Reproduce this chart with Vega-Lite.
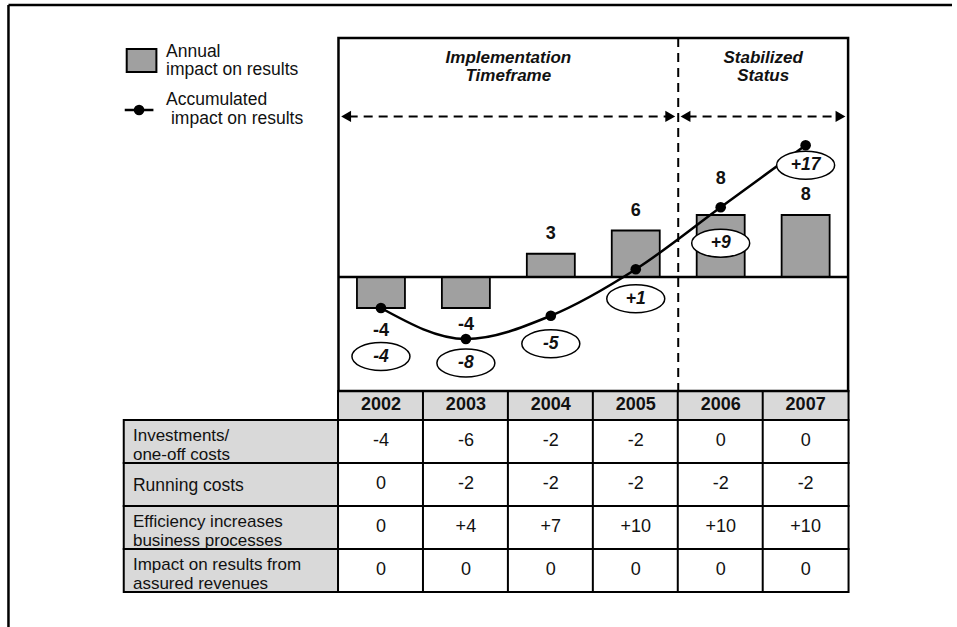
{
  "$schema": "https://vega.github.io/schema/vega-lite/v6.json",
  "width": 957,
  "height": 627,
  "padding": 0,
  "autosize": {"type": "none"},
  "background": "white",
  "config": {
    "view": {"stroke": null},
    "font": "Liberation Sans",
    "locale": {"number": {"decimal": ".", "thousands": ",", "grouping": [3], "currency": ["$", ""], "minus": "-"}}
  },
  "data": {"values": [{}]},
  "datasets": {
    "years": [
      {"year": 2002, "annual": -4, "cumulative": -4},
      {"year": 2003, "annual": -4, "cumulative": -8},
      {"year": 2004, "annual": 3, "cumulative": -5},
      {"year": 2005, "annual": 6, "cumulative": 1},
      {"year": 2006, "annual": 8, "cumulative": 9},
      {"year": 2007, "annual": 8, "cumulative": 17}
    ],
    "rows": [
      {"row": 1, "label": "Investments/\none-off costs"},
      {"row": 2, "label": "Running costs"},
      {"row": 3, "label": "Efficiency increases\nbusiness processes"},
      {"row": 4, "label": "Impact on results from\nassured revenues"}
    ],
    "cells": [
      {"row": 1, "year": 2002, "value": -4}, {"row": 1, "year": 2003, "value": -6}, {"row": 1, "year": 2004, "value": -2},
      {"row": 1, "year": 2005, "value": -2}, {"row": 1, "year": 2006, "value": 0}, {"row": 1, "year": 2007, "value": 0},
      {"row": 2, "year": 2002, "value": 0}, {"row": 2, "year": 2003, "value": -2}, {"row": 2, "year": 2004, "value": -2},
      {"row": 2, "year": 2005, "value": -2}, {"row": 2, "year": 2006, "value": -2}, {"row": 2, "year": 2007, "value": -2},
      {"row": 3, "year": 2002, "value": 0}, {"row": 3, "year": 2003, "value": 4}, {"row": 3, "year": 2004, "value": 7},
      {"row": 3, "year": 2005, "value": 10}, {"row": 3, "year": 2006, "value": 10}, {"row": 3, "year": 2007, "value": 10},
      {"row": 4, "year": 2002, "value": 0}, {"row": 4, "year": 2003, "value": 0}, {"row": 4, "year": 2004, "value": 0},
      {"row": 4, "year": 2005, "value": 0}, {"row": 4, "year": 2006, "value": 0}, {"row": 4, "year": 2007, "value": 0}
    ]
  },
  "resolve": {"scale": {"x": "shared", "y": "independent"}},
  "layer": [
    {"mark": {"type": "rule", "stroke": "black", "strokeWidth": 2.5},
     "encoding": {"x": {"datum": 1997.6146, "scale": {"domain": [1997.5738, 2008.7233], "nice": false, "zero": false}, "axis": null}, "x2": {"datum": 2008.7233},
                  "y": {"datum": -9.1512, "scale": {"domain": [-9.2674, 5.314], "nice": false, "zero": false, "reverse": true}, "axis": null}}},
    {"mark": {"type": "rule", "stroke": "black", "strokeWidth": 2.5},
     "encoding": {"x": {"datum": 1997.6146, "scale": {"domain": [1997.5738, 2008.7233], "nice": false, "zero": false}, "axis": null},
                  "y": {"datum": -9.1512, "scale": {"domain": [-9.2674, 5.314], "nice": false, "zero": false, "reverse": true}, "axis": null}, "y2": {"datum": 5.314}}},

    {"data": {"name": "rows"},
     "mark": {"type": "rect", "fill": "#d9d9d9", "stroke": "black", "strokeWidth": 2, "height": 43},
     "encoding": {"x": {"datum": 1998.9719, "scale": {"domain": [1997.5738, 2008.7233], "nice": false, "zero": false}, "axis": null}, "x2": {"datum": 2001.5},
                  "y": {"field": "row", "type": "quantitative", "scale": {"domain": [-9.2674, 5.314], "nice": false, "zero": false, "reverse": true}, "axis": null}}},
    {"data": {"name": "years"},
     "mark": {"type": "rect", "fill": "#d9d9d9", "stroke": "black", "strokeWidth": 2, "width": 85.83, "height": 29},
     "encoding": {"x": {"field": "year", "type": "quantitative", "scale": {"domain": [1997.5738, 2008.7233], "nice": false, "zero": false}, "axis": null},
                  "y": {"datum": 0.1628, "scale": {"domain": [-9.2674, 5.314], "nice": false, "zero": false, "reverse": true}, "axis": null}}},
    {"data": {"name": "cells"},
     "mark": {"type": "rect", "fill": "white", "stroke": "black", "strokeWidth": 2, "width": 85.83, "height": 43},
     "encoding": {"x": {"field": "year", "type": "quantitative", "scale": {"domain": [1997.5738, 2008.7233], "nice": false, "zero": false}, "axis": null},
                  "y": {"field": "row", "type": "quantitative", "scale": {"domain": [-9.2674, 5.314], "nice": false, "zero": false, "reverse": true}, "axis": null}}},
    {"data": {"name": "rows"}, "transform": [{"filter": "indexof(datum.label, '\\n') >= 0"}],
     "mark": {"type": "text", "align": "left", "baseline": "middle", "lineBreak": "\n", "fontSize": 17, "lineHeight": 19, "dy": -5, "color": "#111"},
     "encoding": {"x": {"datum": 1999.0802, "scale": {"domain": [1997.5738, 2008.7233], "nice": false, "zero": false}, "axis": null},
                  "y": {"field": "row", "type": "quantitative", "scale": {"domain": [-9.2674, 5.314], "nice": false, "zero": false, "reverse": true}, "axis": null},
                  "text": {"field": "label", "type": "nominal"}}},
    {"data": {"name": "rows"}, "transform": [{"filter": "indexof(datum.label, '\\n') < 0"}],
     "mark": {"type": "text", "align": "left", "baseline": "middle", "fontSize": 17.5, "dy": 1.5, "color": "#111"},
     "encoding": {"x": {"datum": 1999.0802, "scale": {"domain": [1997.5738, 2008.7233], "nice": false, "zero": false}, "axis": null},
                  "y": {"field": "row", "type": "quantitative", "scale": {"domain": [-9.2674, 5.314], "nice": false, "zero": false, "reverse": true}, "axis": null},
                  "text": {"field": "label", "type": "nominal"}}},
    {"data": {"name": "years"},
     "mark": {"type": "text", "align": "center", "baseline": "middle", "fontSize": 18, "fontWeight": "bold", "color": "#111"},
     "encoding": {"x": {"field": "year", "type": "quantitative", "scale": {"domain": [1997.5738, 2008.7233], "nice": false, "zero": false}, "axis": null},
                  "y": {"datum": 0.1628, "scale": {"domain": [-9.2674, 5.314], "nice": false, "zero": false, "reverse": true}, "axis": null},
                  "text": {"field": "year", "type": "nominal"}}},
    {"data": {"name": "cells"},
     "mark": {"type": "text", "align": "center", "baseline": "middle", "fontSize": 18, "color": "#111"},
     "encoding": {"x": {"field": "year", "type": "quantitative", "scale": {"domain": [1997.5738, 2008.7233], "nice": false, "zero": false}, "axis": null},
                  "y": {"field": "row", "type": "quantitative", "scale": {"domain": [-9.2674, 5.314], "nice": false, "zero": false, "reverse": true}, "axis": null},
                  "text": {"condition": {"test": "datum.value === 0", "value": "0"}, "field": "value", "type": "quantitative", "format": "+d"}}},

    {"mark": {"type": "rect", "fill": "transparent", "stroke": "black", "strokeWidth": 2.5},
     "encoding": {"x": {"datum": 2001.5, "scale": {"domain": [1997.5738, 2008.7233], "nice": false, "zero": false}, "axis": null}, "x2": {"datum": 2007.5},
                  "y": {"datum": -8.3837, "scale": {"domain": [-9.2674, 5.314], "nice": false, "zero": false, "reverse": true}, "axis": null}, "y2": {"datum": -0.1744}}},
    {"mark": {"type": "rule", "stroke": "black", "strokeWidth": 2, "strokeDash": [9, 6]},
     "encoding": {"x": {"datum": 2005.5, "scale": {"domain": [1997.5738, 2008.7233], "nice": false, "zero": false}, "axis": null},
                  "y": {"datum": -8.3837, "scale": {"domain": [-9.2674, 5.314], "nice": false, "zero": false, "reverse": true}, "axis": null}, "y2": {"datum": -0.1744}}},
    {"mark": {"type": "rule", "stroke": "black", "strokeWidth": 2, "strokeDash": [9, 6]},
     "encoding": {"x": {"datum": 2001.62, "scale": {"domain": [1997.5738, 2008.7233], "nice": false, "zero": false}, "axis": null}, "x2": {"datum": 2005.38},
                  "y": {"datum": -6.5605, "scale": {"domain": [-9.2674, 5.314], "nice": false, "zero": false, "reverse": true}, "axis": null}}},
    {"mark": {"type": "rule", "stroke": "black", "strokeWidth": 2, "strokeDash": [9, 6]},
     "encoding": {"x": {"datum": 2005.61, "scale": {"domain": [1997.5738, 2008.7233], "nice": false, "zero": false}, "axis": null}, "x2": {"datum": 2007.38},
                  "y": {"datum": -6.5605, "scale": {"domain": [-9.2674, 5.314], "nice": false, "zero": false, "reverse": true}, "axis": null}}},
    {"mark": {"type": "point", "shape": "triangle-left", "size": 130, "filled": true, "color": "black", "opacity": 1},
     "encoding": {"x": {"datum": 2001.5898, "scale": {"domain": [1997.5738, 2008.7233], "nice": false, "zero": false}, "axis": null},
                  "y": {"datum": -6.5605, "scale": {"domain": [-9.2674, 5.314], "nice": false, "zero": false, "reverse": true}, "axis": null}}},
    {"mark": {"type": "point", "shape": "triangle-right", "size": 130, "filled": true, "color": "black", "opacity": 1},
     "encoding": {"x": {"datum": 2005.4064, "scale": {"domain": [1997.5738, 2008.7233], "nice": false, "zero": false}, "axis": null},
                  "y": {"datum": -6.5605, "scale": {"domain": [-9.2674, 5.314], "nice": false, "zero": false, "reverse": true}, "axis": null}}},
    {"mark": {"type": "point", "shape": "triangle-left", "size": 130, "filled": true, "color": "black", "opacity": 1},
     "encoding": {"x": {"datum": 2005.5858, "scale": {"domain": [1997.5738, 2008.7233], "nice": false, "zero": false}, "axis": null},
                  "y": {"datum": -6.5605, "scale": {"domain": [-9.2674, 5.314], "nice": false, "zero": false, "reverse": true}, "axis": null}}},
    {"mark": {"type": "point", "shape": "triangle-right", "size": 130, "filled": true, "color": "black", "opacity": 1},
     "encoding": {"x": {"datum": 2007.4103, "scale": {"domain": [1997.5738, 2008.7233], "nice": false, "zero": false}, "axis": null},
                  "y": {"datum": -6.5605, "scale": {"domain": [-9.2674, 5.314], "nice": false, "zero": false, "reverse": true}, "axis": null}}},
    {"mark": {"type": "text", "text": ["Implementation", "Timeframe"], "fontSize": 17, "fontWeight": "bold", "fontStyle": "italic", "lineHeight": 18.6, "align": "center", "baseline": "alphabetic", "color": "#111"},
     "encoding": {"x": {"datum": 2003.5, "scale": {"domain": [1997.5738, 2008.7233], "nice": false, "zero": false}, "axis": null},
                  "y": {"datum": -7.8047, "scale": {"domain": [-9.2674, 5.314], "nice": false, "zero": false, "reverse": true}, "axis": null}}},
    {"mark": {"type": "text", "text": ["Stabilized", "Status"], "fontSize": 17, "fontWeight": "bold", "fontStyle": "italic", "lineHeight": 18.6, "align": "center", "baseline": "alphabetic", "color": "#111"},
     "encoding": {"x": {"datum": 2006.5, "scale": {"domain": [1997.5738, 2008.7233], "nice": false, "zero": false}, "axis": null},
                  "y": {"datum": -7.8047, "scale": {"domain": [-9.2674, 5.314], "nice": false, "zero": false, "reverse": true}, "axis": null}}},

    {"mark": {"type": "rect", "fill": "#a0a0a0", "stroke": "black", "strokeWidth": 2},
     "encoding": {"x": {"datum": 1999.0068, "scale": {"domain": [1997.5738, 2008.7233], "nice": false, "zero": false}, "axis": null}, "x2": {"datum": 1999.3563},
                  "y": {"datum": -8.1279, "scale": {"domain": [-9.2674, 5.314], "nice": false, "zero": false, "reverse": true}, "axis": null}, "y2": {"datum": -7.593}}},
    {"mark": {"type": "text", "text": ["Annual", "impact on results"], "fontSize": 17.5, "lineHeight": 18.5, "align": "left", "baseline": "alphabetic", "color": "#111"},
     "encoding": {"x": {"datum": 1999.4694, "scale": {"domain": [1997.5738, 2008.7233], "nice": false, "zero": false}, "axis": null},
                  "y": {"datum": -7.9419, "scale": {"domain": [-9.2674, 5.314], "nice": false, "zero": false, "reverse": true}, "axis": null}}},
    {"mark": {"type": "rule", "stroke": "black", "strokeWidth": 2.5},
     "encoding": {"x": {"datum": 1998.9835, "scale": {"domain": [1997.5738, 2008.7233], "nice": false, "zero": false}, "axis": null}, "x2": {"datum": 1999.3213},
                  "y": {"datum": -6.7093, "scale": {"domain": [-9.2674, 5.314], "nice": false, "zero": false, "reverse": true}, "axis": null}}},
    {"mark": {"type": "point", "shape": "circle", "size": 113, "filled": true, "color": "black", "opacity": 1},
     "encoding": {"x": {"datum": 1999.1524, "scale": {"domain": [1997.5738, 2008.7233], "nice": false, "zero": false}, "axis": null},
                  "y": {"datum": -6.7093, "scale": {"domain": [-9.2674, 5.314], "nice": false, "zero": false, "reverse": true}, "axis": null}}},
    {"mark": {"type": "text", "text": "Accumulated", "fontSize": 17.5, "align": "left", "baseline": "alphabetic", "color": "#111"},
     "encoding": {"x": {"datum": 1999.4694, "scale": {"domain": [1997.5738, 2008.7233], "nice": false, "zero": false}, "axis": null},
                  "y": {"datum": -6.8256, "scale": {"domain": [-9.2674, 5.314], "nice": false, "zero": false, "reverse": true}, "axis": null}}},
    {"mark": {"type": "text", "text": "impact on results", "fontSize": 17.5, "align": "left", "baseline": "alphabetic", "color": "#111"},
     "encoding": {"x": {"datum": 1999.5277, "scale": {"domain": [1997.5738, 2008.7233], "nice": false, "zero": false}, "axis": null},
                  "y": {"datum": -6.3953, "scale": {"domain": [-9.2674, 5.314], "nice": false, "zero": false, "reverse": true}, "axis": null}}},

    {"data": {"name": "years"},
     "mark": {"type": "bar", "width": 48, "fill": "#a0a0a0", "stroke": "black", "strokeWidth": 1.8},
     "encoding": {"x": {"field": "year", "type": "quantitative", "scale": {"domain": [1997.5738, 2008.7233], "nice": false, "zero": false}, "axis": null},
                  "y": {"field": "annual", "type": "quantitative", "scale": {"domain": [-45.161, 35.742], "nice": false, "zero": false}, "axis": null}, "y2": {"datum": 0}}},
    {"mark": {"type": "rule", "stroke": "black", "strokeWidth": 2.5},
     "encoding": {"x": {"datum": 2001.5, "scale": {"domain": [1997.5738, 2008.7233], "nice": false, "zero": false}, "axis": null}, "x2": {"datum": 2007.5},
                  "y": {"datum": 0, "scale": {"domain": [-45.161, 35.742], "nice": false, "zero": false}, "axis": null}}},
    {"data": {"name": "years"},
     "mark": {"type": "line", "interpolate": "monotone", "stroke": "black", "strokeWidth": 2.5},
     "encoding": {"x": {"field": "year", "type": "quantitative", "scale": {"domain": [1997.5738, 2008.7233], "nice": false, "zero": false}, "axis": null},
                  "y": {"field": "cumulative", "type": "quantitative", "scale": {"domain": [-45.161, 35.742], "nice": false, "zero": false}, "axis": null}}},

    {"data": {"name": "years"}, "transform": [{"filter": "datum.year == 2002"}],
     "mark": {"type": "point", "shape": "M-1,0A1,0.48 0 1,1 1,0A1,0.48 0 1,1 -1,0Z", "size": 3364, "filled": true, "fill": "white", "stroke": "black", "strokeWidth": 1.5, "opacity": 1, "yOffset": 48.5},
     "encoding": {"x": {"field": "year", "type": "quantitative", "scale": {"domain": [1997.5738, 2008.7233], "nice": false, "zero": false}, "axis": null},
                  "y": {"field": "cumulative", "type": "quantitative", "scale": {"domain": [-45.161, 35.742], "nice": false, "zero": false}, "axis": null}}},
    {"data": {"name": "years"}, "transform": [{"filter": "datum.year == 2003"}],
     "mark": {"type": "point", "shape": "M-1,0A1,0.48 0 1,1 1,0A1,0.48 0 1,1 -1,0Z", "size": 3364, "filled": true, "fill": "white", "stroke": "black", "strokeWidth": 1.5, "opacity": 1, "yOffset": 24},
     "encoding": {"x": {"field": "year", "type": "quantitative", "scale": {"domain": [1997.5738, 2008.7233], "nice": false, "zero": false}, "axis": null},
                  "y": {"field": "cumulative", "type": "quantitative", "scale": {"domain": [-45.161, 35.742], "nice": false, "zero": false}, "axis": null}}},
    {"data": {"name": "years"}, "transform": [{"filter": "datum.year == 2004"}],
     "mark": {"type": "point", "shape": "M-1,0A1,0.48 0 1,1 1,0A1,0.48 0 1,1 -1,0Z", "size": 3364, "filled": true, "fill": "white", "stroke": "black", "strokeWidth": 1.5, "opacity": 1, "yOffset": 28},
     "encoding": {"x": {"field": "year", "type": "quantitative", "scale": {"domain": [1997.5738, 2008.7233], "nice": false, "zero": false}, "axis": null},
                  "y": {"field": "cumulative", "type": "quantitative", "scale": {"domain": [-45.161, 35.742], "nice": false, "zero": false}, "axis": null}}},
    {"data": {"name": "years"}, "transform": [{"filter": "datum.year == 2005"}],
     "mark": {"type": "point", "shape": "M-1,0A1,0.48 0 1,1 1,0A1,0.48 0 1,1 -1,0Z", "size": 3364, "filled": true, "fill": "white", "stroke": "black", "strokeWidth": 1.5, "opacity": 1, "yOffset": 29.5},
     "encoding": {"x": {"field": "year", "type": "quantitative", "scale": {"domain": [1997.5738, 2008.7233], "nice": false, "zero": false}, "axis": null},
                  "y": {"field": "cumulative", "type": "quantitative", "scale": {"domain": [-45.161, 35.742], "nice": false, "zero": false}, "axis": null}}},
    {"data": {"name": "years"}, "transform": [{"filter": "datum.year == 2006"}],
     "mark": {"type": "point", "shape": "M-1,0A1,0.48 0 1,1 1,0A1,0.48 0 1,1 -1,0Z", "size": 3364, "filled": true, "fill": "white", "stroke": "black", "strokeWidth": 1.5, "opacity": 1, "yOffset": 36},
     "encoding": {"x": {"field": "year", "type": "quantitative", "scale": {"domain": [1997.5738, 2008.7233], "nice": false, "zero": false}, "axis": null},
                  "y": {"field": "cumulative", "type": "quantitative", "scale": {"domain": [-45.161, 35.742], "nice": false, "zero": false}, "axis": null}}},
    {"data": {"name": "years"}, "transform": [{"filter": "datum.year == 2007"}],
     "mark": {"type": "point", "shape": "M-1,0A1,0.48 0 1,1 1,0A1,0.48 0 1,1 -1,0Z", "size": 3364, "filled": true, "fill": "white", "stroke": "black", "strokeWidth": 1.5, "opacity": 1, "yOffset": 20},
     "encoding": {"x": {"field": "year", "type": "quantitative", "scale": {"domain": [1997.5738, 2008.7233], "nice": false, "zero": false}, "axis": null},
                  "y": {"field": "cumulative", "type": "quantitative", "scale": {"domain": [-45.161, 35.742], "nice": false, "zero": false}, "axis": null}}},

    {"data": {"name": "years"}, "transform": [{"filter": "datum.year == 2002"}],
     "mark": {"type": "text", "fontSize": 17.5, "fontWeight": "bold", "fontStyle": "italic", "align": "center", "baseline": "middle", "dy": 48.5, "color": "#111"},
     "encoding": {"x": {"field": "year", "type": "quantitative", "scale": {"domain": [1997.5738, 2008.7233], "nice": false, "zero": false}, "axis": null},
                  "y": {"field": "cumulative", "type": "quantitative", "scale": {"domain": [-45.161, 35.742], "nice": false, "zero": false}, "axis": null},
                  "text": {"field": "cumulative", "type": "quantitative", "format": "+d"}}},
    {"data": {"name": "years"}, "transform": [{"filter": "datum.year == 2003"}],
     "mark": {"type": "text", "fontSize": 17.5, "fontWeight": "bold", "fontStyle": "italic", "align": "center", "baseline": "middle", "dy": 24, "color": "#111"},
     "encoding": {"x": {"field": "year", "type": "quantitative", "scale": {"domain": [1997.5738, 2008.7233], "nice": false, "zero": false}, "axis": null},
                  "y": {"field": "cumulative", "type": "quantitative", "scale": {"domain": [-45.161, 35.742], "nice": false, "zero": false}, "axis": null},
                  "text": {"field": "cumulative", "type": "quantitative", "format": "+d"}}},
    {"data": {"name": "years"}, "transform": [{"filter": "datum.year == 2004"}],
     "mark": {"type": "text", "fontSize": 17.5, "fontWeight": "bold", "fontStyle": "italic", "align": "center", "baseline": "middle", "dy": 28, "color": "#111"},
     "encoding": {"x": {"field": "year", "type": "quantitative", "scale": {"domain": [1997.5738, 2008.7233], "nice": false, "zero": false}, "axis": null},
                  "y": {"field": "cumulative", "type": "quantitative", "scale": {"domain": [-45.161, 35.742], "nice": false, "zero": false}, "axis": null},
                  "text": {"field": "cumulative", "type": "quantitative", "format": "+d"}}},
    {"data": {"name": "years"}, "transform": [{"filter": "datum.year == 2005"}],
     "mark": {"type": "text", "fontSize": 17.5, "fontWeight": "bold", "fontStyle": "italic", "align": "center", "baseline": "middle", "dy": 29.5, "color": "#111"},
     "encoding": {"x": {"field": "year", "type": "quantitative", "scale": {"domain": [1997.5738, 2008.7233], "nice": false, "zero": false}, "axis": null},
                  "y": {"field": "cumulative", "type": "quantitative", "scale": {"domain": [-45.161, 35.742], "nice": false, "zero": false}, "axis": null},
                  "text": {"field": "cumulative", "type": "quantitative", "format": "+d"}}},
    {"data": {"name": "years"}, "transform": [{"filter": "datum.year == 2006"}],
     "mark": {"type": "text", "fontSize": 17.5, "fontWeight": "bold", "fontStyle": "italic", "align": "center", "baseline": "middle", "dy": 36, "color": "#111"},
     "encoding": {"x": {"field": "year", "type": "quantitative", "scale": {"domain": [1997.5738, 2008.7233], "nice": false, "zero": false}, "axis": null},
                  "y": {"field": "cumulative", "type": "quantitative", "scale": {"domain": [-45.161, 35.742], "nice": false, "zero": false}, "axis": null},
                  "text": {"field": "cumulative", "type": "quantitative", "format": "+d"}}},
    {"data": {"name": "years"}, "transform": [{"filter": "datum.year == 2007"}],
     "mark": {"type": "text", "fontSize": 17.5, "fontWeight": "bold", "fontStyle": "italic", "align": "center", "baseline": "middle", "dy": 20, "color": "#111"},
     "encoding": {"x": {"field": "year", "type": "quantitative", "scale": {"domain": [1997.5738, 2008.7233], "nice": false, "zero": false}, "axis": null},
                  "y": {"field": "cumulative", "type": "quantitative", "scale": {"domain": [-45.161, 35.742], "nice": false, "zero": false}, "axis": null},
                  "text": {"field": "cumulative", "type": "quantitative", "format": "+d"}}},

    {"data": {"name": "years"},
     "mark": {"type": "point", "shape": "circle", "size": 113, "filled": true, "color": "black", "opacity": 1},
     "encoding": {"x": {"field": "year", "type": "quantitative", "scale": {"domain": [1997.5738, 2008.7233], "nice": false, "zero": false}, "axis": null},
                  "y": {"field": "cumulative", "type": "quantitative", "scale": {"domain": [-45.161, 35.742], "nice": false, "zero": false}, "axis": null}}},

    {"data": {"name": "years"}, "transform": [{"filter": "datum.annual > 0 && datum.year != 2006"}],
     "mark": {"type": "text", "fontSize": 18, "fontWeight": "bold", "align": "center", "baseline": "middle", "dy": -20, "color": "#111"},
     "encoding": {"x": {"field": "year", "type": "quantitative", "scale": {"domain": [1997.5738, 2008.7233], "nice": false, "zero": false}, "axis": null},
                  "y": {"field": "annual", "type": "quantitative", "scale": {"domain": [-45.161, 35.742], "nice": false, "zero": false}, "axis": null},
                  "text": {"field": "annual", "type": "quantitative", "format": "d"}}},
    {"data": {"name": "years"}, "transform": [{"filter": "datum.year == 2006"}],
     "mark": {"type": "text", "fontSize": 18, "fontWeight": "bold", "align": "center", "baseline": "middle", "dy": -36, "color": "#111"},
     "encoding": {"x": {"field": "year", "type": "quantitative", "scale": {"domain": [1997.5738, 2008.7233], "nice": false, "zero": false}, "axis": null},
                  "y": {"field": "annual", "type": "quantitative", "scale": {"domain": [-45.161, 35.742], "nice": false, "zero": false}, "axis": null},
                  "text": {"field": "annual", "type": "quantitative", "format": "d"}}},
    {"data": {"name": "years"}, "transform": [{"filter": "datum.year == 2002"}],
     "mark": {"type": "text", "fontSize": 18, "fontWeight": "bold", "align": "center", "baseline": "middle", "dy": 23, "color": "#111"},
     "encoding": {"x": {"field": "year", "type": "quantitative", "scale": {"domain": [1997.5738, 2008.7233], "nice": false, "zero": false}, "axis": null},
                  "y": {"field": "annual", "type": "quantitative", "scale": {"domain": [-45.161, 35.742], "nice": false, "zero": false}, "axis": null},
                  "text": {"field": "annual", "type": "quantitative", "format": "d"}}},
    {"data": {"name": "years"}, "transform": [{"filter": "datum.year == 2003"}],
     "mark": {"type": "text", "fontSize": 18, "fontWeight": "bold", "align": "center", "baseline": "middle", "dy": 17, "color": "#111"},
     "encoding": {"x": {"field": "year", "type": "quantitative", "scale": {"domain": [1997.5738, 2008.7233], "nice": false, "zero": false}, "axis": null},
                  "y": {"field": "annual", "type": "quantitative", "scale": {"domain": [-45.161, 35.742], "nice": false, "zero": false}, "axis": null},
                  "text": {"field": "annual", "type": "quantitative", "format": "d"}}}
  ]
}
